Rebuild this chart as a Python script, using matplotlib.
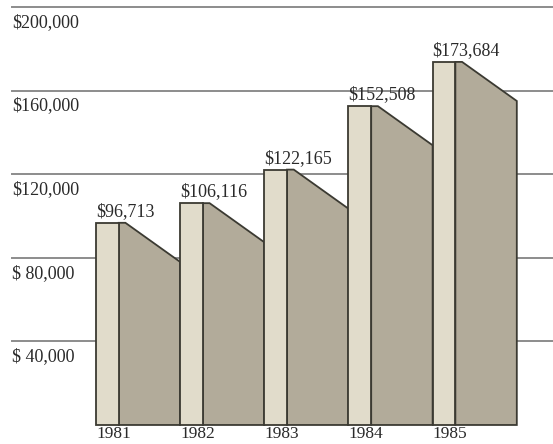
import matplotlib
matplotlib.use("Agg")
import matplotlib.pyplot as plt
import numpy as np

years = ["1981", "1982", "1983", "1984", "1985"]
values = [96713, 106116, 122165, 152508, 173684]
value_labels = ["$96,713", "$106,116", "$122,165", "$152,508", "$173,684"]
grid_values = [40000, 80000, 120000, 160000, 200000]
grid_labels = ["$ 40,000", "$ 80,000", "$120,000", "$160,000", "$200,000"]

front_col = "#e1dccb"
side_col = "#b2ab9a"
edge_col = "#3b3a32"
grid_col = "#8c8c8c"
text_col = "#2a2a2a"

front_w = 0.27     # width of the lit face
drop = 18700       # how far the shaded side slopes down

plt.rcParams["font.family"] = ["Liberation Serif", "DejaVu Serif"]

fig = plt.figure(figsize=(5.53, 4.44), dpi=100)
ax = fig.add_axes([0, 0, 1, 1])
ax.set_xlim(-1.14, 5.43)
ax.set_ylim(-9100, 203300)
ax.axis("off")

# horizontal rules behind the bars
for g, lab in zip(grid_values, grid_labels):
    ax.plot([-1.0, 5.43], [g, g], color=grid_col, lw=1.4, zorder=1)
    ax.annotate(lab, (-1.0, g), xytext=(0, -5), textcoords="offset points",
                ha="left", va="top", fontsize=13, color=text_col)

x = np.arange(len(values))
for i, v in enumerate(values):
    # shaded side face
    sx = [x[i] + front_w, x[i] + front_w, x[i] + front_w + 0.08, x[i] + 1.0, x[i] + 1.0]
    sy = [0, v, v, v - drop, 0]
    ax.fill(sx, sy, facecolor=side_col, edgecolor=edge_col, lw=1.3, zorder=2,
            joinstyle="miter")
    ax.annotate(value_labels[i], (x[i], v), xytext=(0, 2), textcoords="offset points",
                ha="left", va="bottom", fontsize=13, color=text_col)
    ax.annotate(years[i], (x[i], 0), xytext=(0, -1), textcoords="offset points",
                ha="left", va="top", fontsize=12.5, color=text_col)

# lit front faces
ax.bar(x, values, width=front_w, align="edge", color=front_col,
       edgecolor=edge_col, lw=1.3, zorder=3)

fig.savefig("out.png", dpi=100, facecolor="white")
